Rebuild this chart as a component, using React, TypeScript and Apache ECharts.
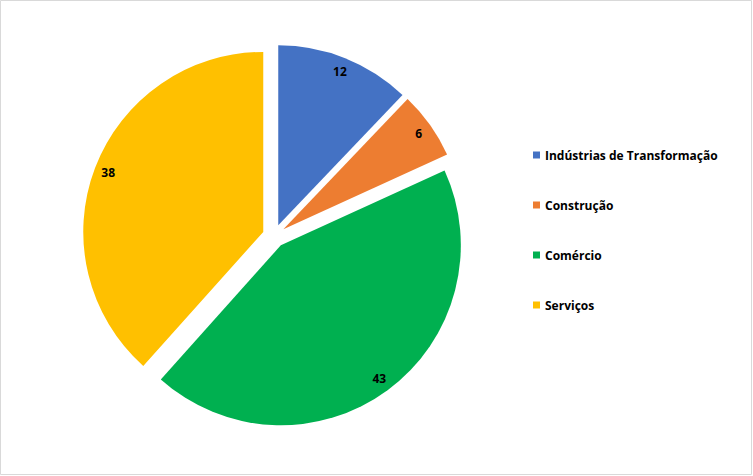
import React, { useEffect, useRef } from "react";
import * as echarts from "echarts";

const categories = ["Indústrias de Transformação", "Construção", "Comércio", "Serviços"];
const values = [12, 6, 43, 38];
const colors = ["#4472C4", "#ED7D31", "#00B050", "#FFC000"];

export default function App() {
  const ref = useRef<HTMLDivElement>(null);
  useEffect(() => {
    if (!ref.current) return;
    const chart = echarts.init(ref.current, null, { renderer: "svg" });
    const pieData = categories.map((name, i) => ({
      name,
      value: values[i],
      selected: true,
      itemStyle: { color: colors[i] },
    }));
    const labelData = categories.map((name, i) => ({
      name,
      value: values[i],
      selected: true,
    }));
    chart.setOption({
      animation: false,
      backgroundColor: "#ffffff",
      graphic: [
        {
          type: "rect",
          shape: { x: 0.5, y: 0.5, width: 751, height: 474 },
          style: { fill: "none", stroke: "#d9d9d9", lineWidth: 1 },
          silent: true,
        },
      ],
      legend: {
        orient: "vertical",
        left: 528,
        top: 144,
        itemGap: 38,
        itemWidth: 7,
        itemHeight: 7,
        icon: "rect",
        data: categories.map((name, i) => ({ name, itemStyle: { color: colors[i] } })),
        textStyle: { fontFamily: "Open Sans", fontSize: 12, fontWeight: "bold", color: "#000000" },
      },
      series: [
        {
          type: "pie",
          center: [274, 236],
          radius: [0, 180],
          startAngle: 90,
          clockwise: true,
          selectedMode: "multiple",
          selectedOffset: 11.5,
          select: { itemStyle: { borderWidth: 0 } },
          emphasis: { disabled: true },
          label: { show: false },
          labelLine: { show: false },
          itemStyle: { borderWidth: 0 },
          data: pieData,
        },
        {
          type: "pie",
          center: [274, 236],
          radius: [146, 180],
          startAngle: 90,
          clockwise: true,
          silent: true,
          selectedMode: "multiple",
          selectedOffset: 11.5,
          select: { itemStyle: { borderWidth: 0, color: "rgba(0,0,0,0)" } },
          emphasis: { disabled: true },
          itemStyle: { color: "rgba(0,0,0,0)", borderWidth: 0 },
          label: {
            show: true,
            position: "inside",
            formatter: "{c}",
            fontFamily: "Open Sans",
            fontSize: 12,
            fontWeight: "bold",
            color: "#000000",
          },
          labelLine: { show: false },
          data: labelData,
        },
      ],
    });
    return () => chart.dispose();
  }, []);
  return (
    <div style={{ position: "fixed", left: 0, top: 0, width: 753, height: 476 }}>
      <div ref={ref} style={{ width: 753, height: 476 }} />
    </div>
  );
}
